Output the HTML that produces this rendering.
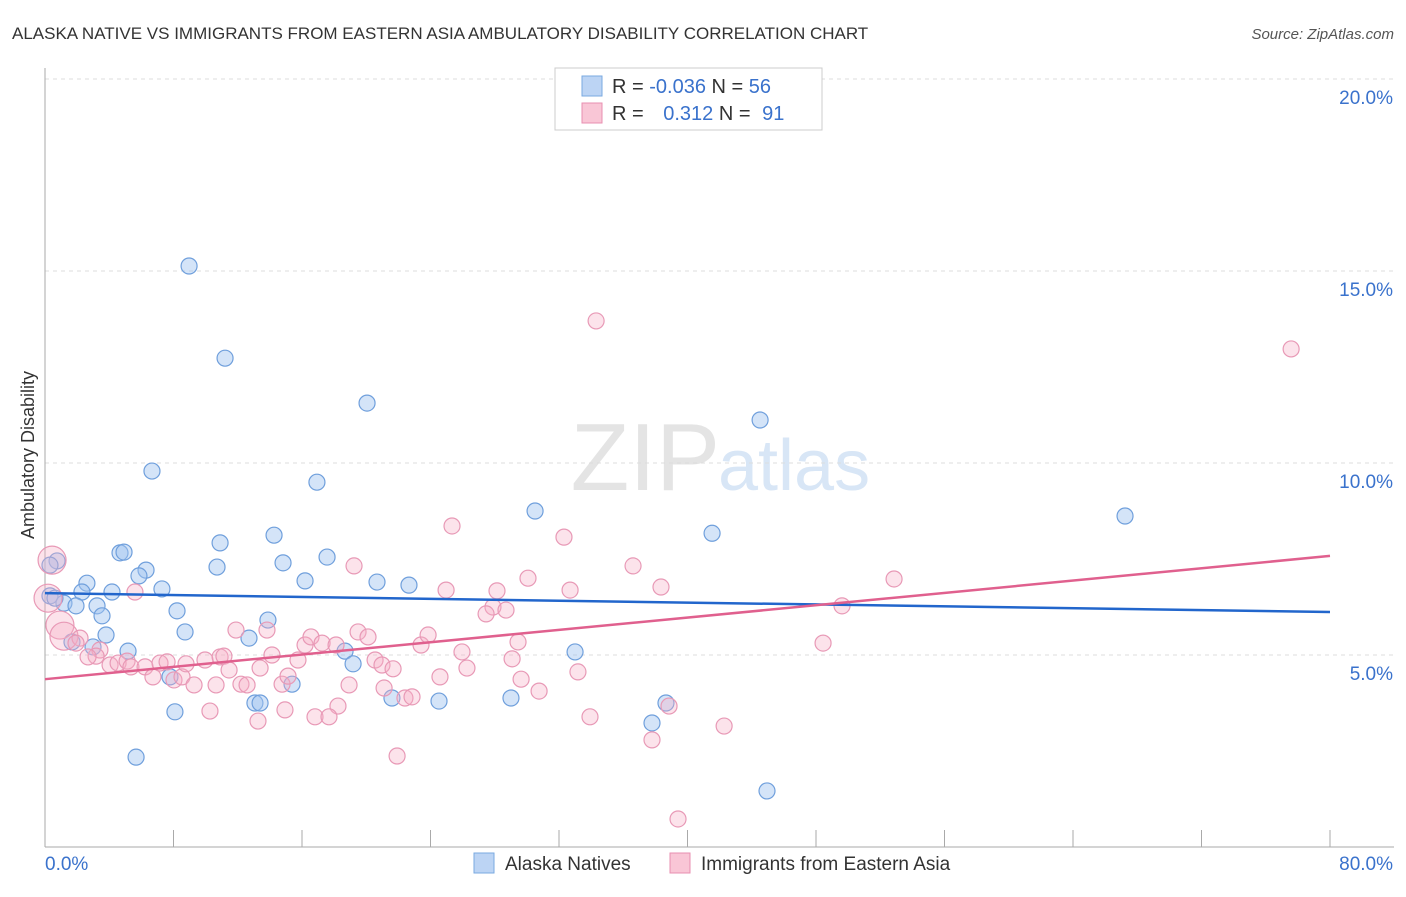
<!DOCTYPE html>
<html><head><meta charset="utf-8"><style>
body{margin:0;background:#fff;font-family:"Liberation Sans",sans-serif;}
svg text{font-family:"Liberation Sans",sans-serif;}
</style></head><body>
<svg id="chart" width="1406" height="892" xmlns="http://www.w3.org/2000/svg">
<text x="12" y="39" font-size="17" fill="#333">ALASKA NATIVE VS IMMIGRANTS FROM EASTERN ASIA AMBULATORY DISABILITY CORRELATION CHART</text>
<text x="1394" y="39" font-size="15" fill="#555" text-anchor="end" font-style="italic">Source: ZipAtlas.com</text>
<text x="720" y="490" font-size="96" fill="#e4e4e4" text-anchor="end" font-family="Liberation Serif">ZIP</text>
<text x="718" y="490" font-size="72" fill="#d8e6f6">atlas</text>
<text transform="translate(34,455) rotate(-90)" font-size="18" fill="#333" text-anchor="middle">Ambulatory Disability</text>
<g id="grid"></g><g id="axes"></g><g id="pts"></g><g id="lines"></g>
<g>
<rect x="555" y="68" width="267" height="62" fill="#fff" stroke="#ccc"/>
<rect x="582" y="76" width="20" height="20" fill="#bcd4f4" stroke="#7aaae0"/>
<rect x="582" y="103" width="20" height="20" fill="#f9c6d6" stroke="#e88fb0"/>
<text x="612" y="93" font-size="20" fill="#333">R = <tspan fill="#3a72cc">-0.036</tspan>   N = <tspan fill="#3a72cc">56</tspan></text>
<text x="612" y="120" font-size="20" fill="#333">R = <tspan fill="#3a72cc" dx="14">0.312</tspan>   N = <tspan fill="#3a72cc" dx="6">91</tspan></text>
</g>
<g>
<rect x="474" y="853" width="20" height="20" fill="#bcd4f4" stroke="#7aaae0"/>
<text x="505" y="870" font-size="19" fill="#333">Alaska Natives</text>
<rect x="670" y="853" width="20" height="20" fill="#f9c6d6" stroke="#e88fb0"/>
<text x="701" y="870" font-size="19" fill="#333">Immigrants from Eastern Asia</text>
</g>
</svg>
<script>
const blueX=[8.97,11.21,20.05,44.52,6.66,16.93,30.51,67.24,41.53,14.26,10.90,4.67,4.92,17.56,0.75,14.82,6.29,10.71,5.85,16.19,20.67,22.66,2.61,7.28,4.17,2.30,0.31,1.18,3.24,8.22,3.55,13.88,8.72,3.80,12.70,1.68,2.99,5.17,18.68,33.00,19.18,7.78,15.38,13.07,13.39,21.60,24.53,29.01,38.66,8.09,37.79,5.67,44.95,0.62,1.93,0.31];
const blueY=[15.13,12.73,11.56,11.12,9.79,9.50,8.75,8.62,8.17,8.12,7.92,7.66,7.68,7.55,7.45,7.40,7.21,7.29,7.06,6.93,6.90,6.82,6.87,6.72,6.64,6.64,6.54,6.35,6.28,6.15,6.02,5.91,5.60,5.52,5.44,5.34,5.21,5.10,5.10,5.08,4.77,4.43,4.24,3.75,3.75,3.88,3.80,3.88,3.75,3.52,3.23,2.34,1.46,6.48,6.28,7.34];
const pinkX=[34.31,77.58,25.34,32.31,19.24,36.61,52.86,30.07,28.14,32.69,24.97,38.35,49.62,27.89,28.70,27.46,5.60,0.44,0.19,0.93,1.18,2.18,1.93,3.42,3.18,2.68,4.05,4.55,5.11,5.35,6.23,6.72,7.16,7.60,8.03,8.53,8.78,9.28,9.96,10.65,10.90,11.14,11.46,12.20,12.58,11.89,13.82,14.13,13.39,14.76,15.13,15.75,16.19,16.56,17.25,18.12,19.49,20.11,20.55,20.98,21.67,21.11,22.41,22.85,23.41,23.85,25.96,26.27,24.59,29.08,29.45,29.64,30.76,33.18,18.93,18.24,16.81,17.68,14.94,13.26,10.27,21.92,33.93,37.79,38.85,42.28,39.41,48.44];
const pinkY=[13.70,12.97,8.36,8.07,7.32,7.32,6.98,7.00,6.67,6.69,6.69,6.77,6.28,6.25,6.17,6.07,6.64,7.47,6.48,5.78,5.49,5.44,5.31,5.13,4.97,4.95,4.74,4.79,4.84,4.69,4.69,4.43,4.79,4.82,4.35,4.43,4.77,4.22,4.87,4.22,4.95,4.97,4.61,4.24,4.22,5.65,5.65,5.00,4.66,4.24,4.45,4.87,5.26,5.47,5.31,5.26,5.60,5.47,4.87,4.74,4.64,4.14,3.88,3.91,5.26,5.52,5.08,4.66,4.43,4.90,5.34,4.37,4.06,4.56,4.22,3.67,3.39,3.39,3.57,3.28,3.54,2.37,3.39,2.79,3.67,3.15,0.73,5.31];
const trendX=[0,80];
const blueTrend=[6.61,6.12];
const pinkTrend=[4.37,7.58];
const yTicks=[5,10,15,20];
const xLabels=["0.0%","80.0%"];
const X0=45,X1=1330,Y0=847,PXPER=192/5;
const sx=v=>X0+(v/80)*(X1-X0), sy=v=>Y0-v*PXPER;
const NS="http://www.w3.org/2000/svg";
function mk(tag,attrs,parent){const e=document.createElementNS(NS,tag);for(const k in attrs)e.setAttribute(k,attrs[k]);document.getElementById(parent).appendChild(e);return e;}
yTicks.forEach(t=>{
 const l=mk('line',{x1:X0,x2:1394,y1:sy(t),y2:sy(t),stroke:'#ddd','stroke-dasharray':'4,4'},'grid');
 
 
 const tx=mk('text',{x:1393,y:sy(t)+25,'font-size':19,fill:'#3a72cc','text-anchor':'end'},'grid');
 tx.textContent=t.toFixed(1)+'%';
 
 
});
const ax=mk('line',{x1:X0,x2:X0,y1:68,y2:Y0,stroke:'#aaa'},'axes');


const bx=mk('line',{x1:X0,x2:1394,y1:Y0,y2:Y0,stroke:'#aaa'},'axes');


for(let i=0;i<=10;i++){const t=mk('line',{x1:sx(i*8),x2:sx(i*8),y1:Y0,y2:Y0-17,stroke:'#aaa'},'axes');
 
 }
[[0,'start',X0],[1,'end',1393]].forEach(([i,a,x])=>{const t=mk('text',{x:x,y:870,'font-size':19,fill:'#3a72cc','text-anchor':a},'axes');t.textContent=xLabels[i];
 
 });
blueX.forEach((v,i)=>{const c=mk('circle',{cx:sx(v),cy:sy(blueY[i]),r:8,fill:'rgba(160,196,240,0.45)',stroke:'#6f9fdc','stroke-width':1.2},'pts');
 
 });
pinkX.forEach((v,i)=>{const r=(v<1.5&&i>=17&&i<=20)?14:8;const c=mk('circle',{cx:sx(v),cy:sy(pinkY[i]),r:r,fill:'rgba(245,175,198,0.35)',stroke:'#e899b6','stroke-width':1.2},'pts');
 
 });
const bl=mk('line',{x1:sx(trendX[0]),y1:sy(blueTrend[0]),x2:sx(trendX[1]),y2:sy(blueTrend[1]),stroke:'#2266cc','stroke-width':2.5},'lines');


const pl=mk('line',{x1:sx(trendX[0]),y1:sy(pinkTrend[0]),x2:sx(trendX[1]),y2:sy(pinkTrend[1]),stroke:'#e0608e','stroke-width':2.5},'lines');


</script>
</body></html>
